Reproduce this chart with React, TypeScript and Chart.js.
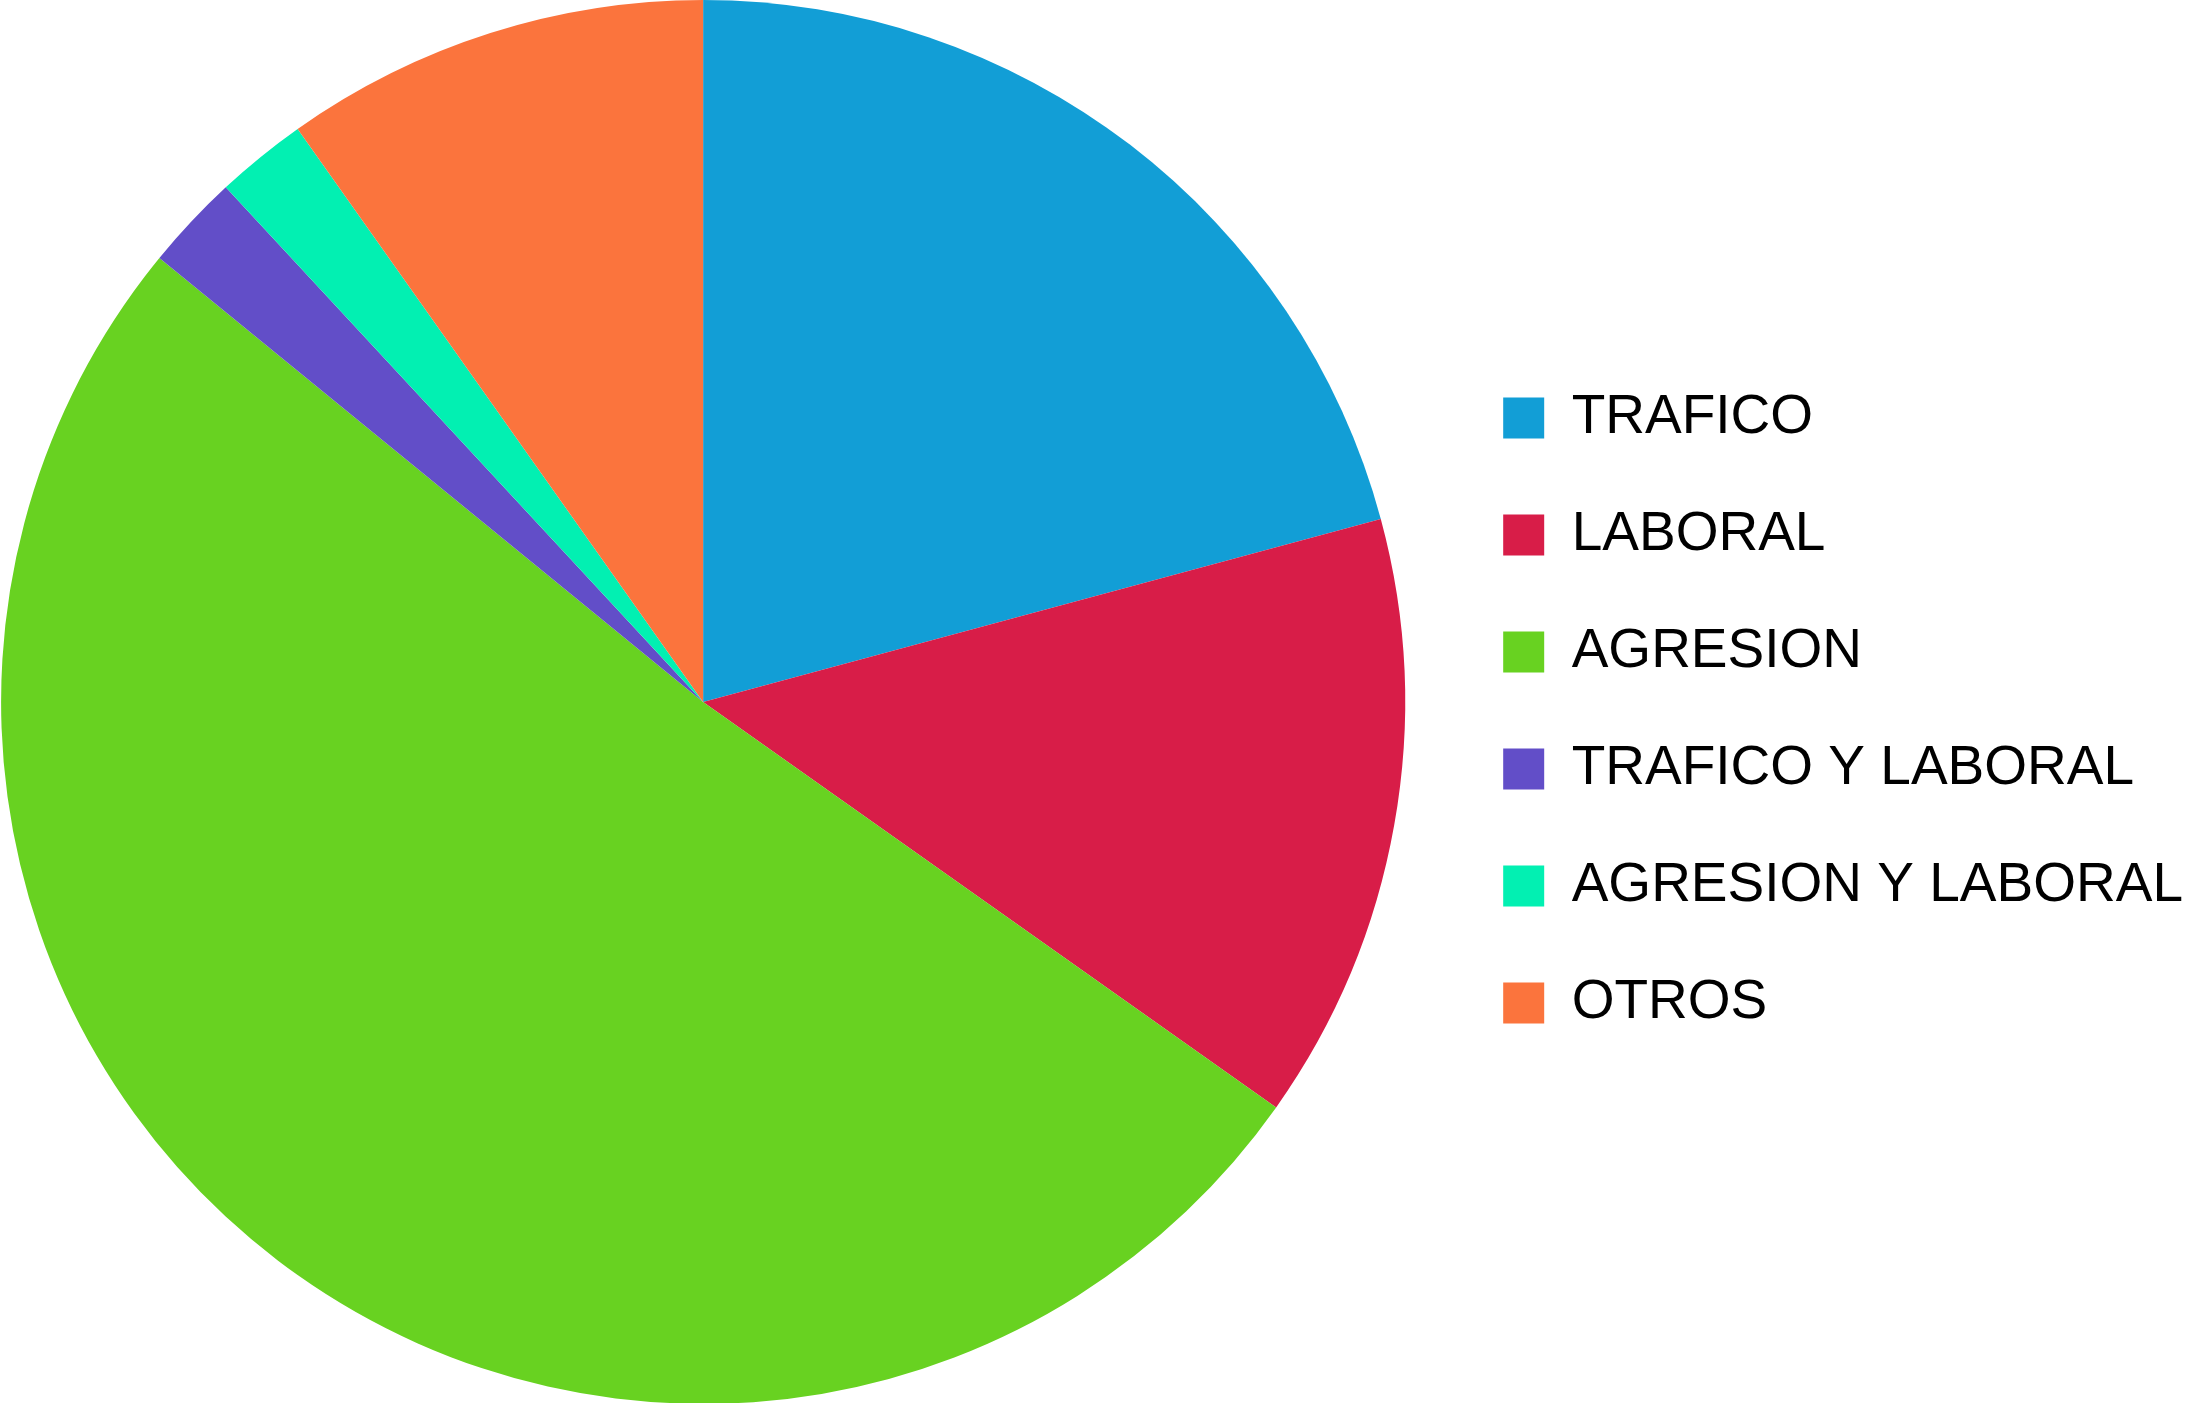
import React, { useEffect, useRef } from "react";
import { Chart, registerables } from "chart.js";

Chart.register(...registerables);

const categories = [
  "TRAFICO",
  "LABORAL",
  "AGRESION",
  "TRAFICO Y LABORAL",
  "AGRESION Y LABORAL",
  "OTROS",
];
const values = [20.8, 14.0, 51.1, 2.2, 2.1, 9.8];
const colors = ["#129ED6", "#D81D48", "#68D221", "#624EC8", "#02F0B2", "#FB743D"];

export default function App() {
  const ref = useRef<HTMLCanvasElement | null>(null);

  useEffect(() => {
    if (!ref.current) return;
    const chart = new Chart(ref.current, {
      type: "pie",
      data: {
        labels: categories,
        datasets: [
          {
            data: values,
            backgroundColor: colors,
            borderWidth: 0,
            hoverBorderWidth: 0,
            offset: 0,
            hoverOffset: 0,
          },
        ],
      },
      options: {
        responsive: false,
        animation: false,
        devicePixelRatio: 1,
        layout: { padding: { left: 0, right: 0, top: 0, bottom: 0 } },
        plugins: {
          tooltip: { enabled: false },
          legend: {
            position: "right",
            align: "center",
            title: {
              display: true,
              text: "",
              font: { size: 1 },
              padding: { top: 16, bottom: 0 },
            },
            labels: {
              boxWidth: 41,
              boxHeight: 41,
              padding: 62,
              color: "#000000",
              font: {
                family: "'Liberation Sans', Arial, Helvetica, sans-serif",
                size: 55,
              },
            },
          },
        },
      },
    });
    return () => chart.destroy();
  }, []);

  return (
    <div
      style={{
        position: "fixed",
        left: 0,
        top: 0,
        width: 2194,
        height: 1403,
        overflow: "hidden",
        background: "#ffffff",
      }}
    >
      <canvas
        ref={ref}
        width={2228}
        height={1404}
        style={{ position: "absolute", left: -35, top: 0, width: 2228, height: 1404 }}
      />
    </div>
  );
}
